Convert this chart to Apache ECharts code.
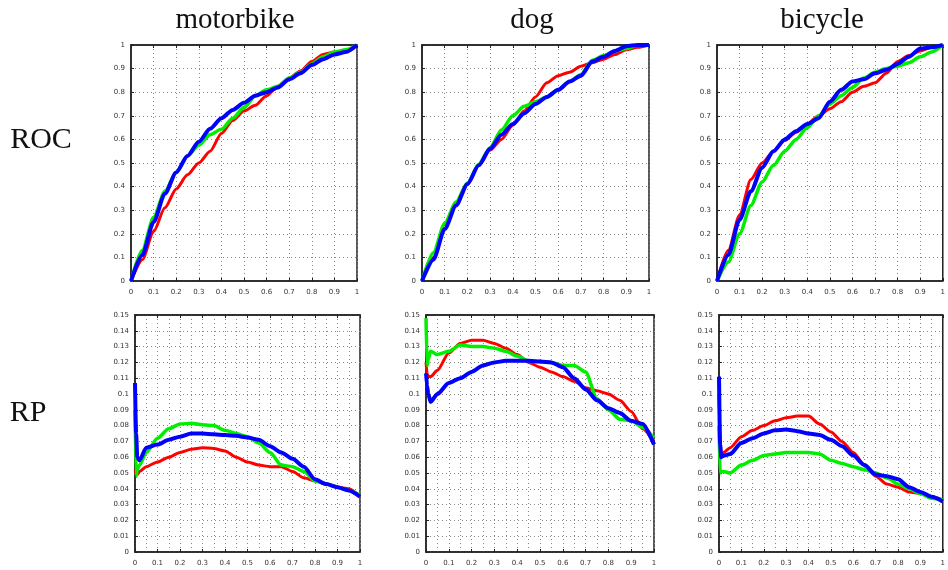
<!DOCTYPE html>
<html>
<head>
<meta charset="utf-8">
<script src="https://cdn.jsdelivr.net/npm/echarts@6/dist/echarts.min.js"></script>
<style>
html,body{margin:0;padding:0;background:#fff;}
#main{width:948px;height:570px;}
</style>
</head>
<body>
<div id="main"></div>
<script>
// 类别
var classNames=['motorbike','dog','bicycle'];
var rowNames=['ROC','RP'];
var methodColors=['#ff0000','#00ee00','#0000ff'];
var methodWidths=[3,3.5,4];

// ROC 横轴
var rocX=[0,0.05,0.1,0.15,0.2,0.25,0.3,0.35,0.4,0.45,0.5,0.55,0.6,0.65,0.7,0.75,0.8,0.85,0.9,0.95,1];
// motorbike ROC
var motoRocRed=[0,0.09,0.21,0.31,0.39,0.45,0.50,0.55,0.625,0.68,0.72,0.745,0.785,0.825,0.86,0.89,0.93,0.96,0.97,0.975,1];
var motoRocGreen=[0,0.13,0.27,0.38,0.46,0.53,0.575,0.62,0.643,0.69,0.735,0.785,0.81,0.825,0.86,0.885,0.92,0.95,0.97,0.98,1];
var motoRocBlue=[0,0.11,0.25,0.37,0.46,0.53,0.59,0.645,0.69,0.725,0.755,0.785,0.80,0.82,0.855,0.88,0.915,0.94,0.96,0.97,1];
// dog ROC
var dogRocRed=[0,0.10,0.24,0.33,0.41,0.49,0.555,0.60,0.66,0.72,0.78,0.84,0.87,0.885,0.91,0.925,0.94,0.96,0.98,0.99,1];
var dogRocGreen=[0,0.12,0.245,0.335,0.415,0.495,0.565,0.64,0.70,0.74,0.76,0.78,0.81,0.845,0.875,0.935,0.955,0.975,0.985,1,1];
var dogRocBlue=[0,0.09,0.22,0.32,0.41,0.49,0.56,0.62,0.665,0.71,0.75,0.78,0.81,0.845,0.87,0.93,0.95,0.975,0.995,1,1];
// bicycle ROC
var bikeRocRed=[0,0.13,0.28,0.43,0.50,0.55,0.595,0.63,0.665,0.70,0.73,0.76,0.80,0.825,0.84,0.88,0.93,0.955,0.975,0.99,1];
var bikeRocGreen=[0,0.08,0.20,0.32,0.42,0.49,0.55,0.60,0.65,0.70,0.75,0.785,0.82,0.86,0.885,0.90,0.91,0.925,0.95,0.97,1];
var bikeRocBlue=[0,0.11,0.26,0.38,0.48,0.55,0.60,0.635,0.665,0.69,0.76,0.81,0.845,0.855,0.88,0.895,0.92,0.95,0.985,0.99,1];

// RP 横轴
var rpX=[0,0.005,0.01,0.02,0.05,0.1,0.15,0.2,0.25,0.3,0.35,0.4,0.45,0.5,0.55,0.6,0.65,0.7,0.75,0.8,0.85,0.9,0.95,1];
// motorbike RP
var motoRpRed=[0.052,0.05,0.049,0.051,0.054,0.057,0.060,0.063,0.065,0.066,0.0655,0.064,0.060,0.057,0.055,0.054,0.054,0.051,0.047,0.045,0.043,0.041,0.040,0.035];
var motoRpGreen=[0.09,0.048,0.052,0.055,0.063,0.072,0.078,0.081,0.0815,0.0805,0.080,0.077,0.075,0.073,0.069,0.063,0.055,0.054,0.051,0.045,0.043,0.041,0.039,0.036];
var motoRpBlue=[0.107,0.075,0.060,0.058,0.066,0.068,0.071,0.073,0.075,0.075,0.0745,0.074,0.0735,0.0725,0.071,0.067,0.063,0.059,0.054,0.046,0.043,0.041,0.039,0.035];
// dog RP
var dogRpRed=[0.12,0.113,0.111,0.111,0.115,0.126,0.132,0.134,0.134,0.132,0.129,0.125,0.120,0.117,0.114,0.111,0.108,0.104,0.102,0.100,0.096,0.089,0.078,0.069];
var dogRpGreen=[0.148,0.118,0.122,0.127,0.125,0.127,0.131,0.130,0.130,0.129,0.127,0.124,0.121,0.1205,0.120,0.118,0.118,0.114,0.097,0.090,0.084,0.083,0.079,0.072];
var dogRpBlue=[0.113,0.105,0.100,0.095,0.100,0.107,0.110,0.114,0.118,0.120,0.121,0.121,0.121,0.1205,0.120,0.117,0.110,0.103,0.096,0.091,0.088,0.083,0.081,0.068];
// bicycle RP
var bikeRpRed=[0.10,0.07,0.062,0.063,0.066,0.073,0.077,0.080,0.083,0.085,0.086,0.086,0.081,0.076,0.070,0.063,0.055,0.048,0.043,0.041,0.038,0.037,0.035,0.033];
var bikeRpGreen=[0.08,0.05,0.051,0.051,0.050,0.055,0.058,0.061,0.062,0.063,0.063,0.063,0.062,0.058,0.056,0.054,0.052,0.050,0.047,0.043,0.040,0.037,0.034,0.033];
var bikeRpBlue=[0.111,0.068,0.060,0.061,0.062,0.069,0.072,0.075,0.077,0.0775,0.0765,0.075,0.074,0.071,0.067,0.061,0.055,0.049,0.048,0.046,0.041,0.038,0.035,0.032];

var rocData=[[motoRocRed,motoRocGreen,motoRocBlue],[dogRocRed,dogRocGreen,dogRocBlue],[bikeRocRed,bikeRocGreen,bikeRocBlue]];
var rpData=[[motoRpRed,motoRpGreen,motoRpBlue],[dogRpRed,dogRpGreen,dogRpBlue],[bikeRpRed,bikeRpGreen,bikeRpBlue]];

var myChart=echarts.init(document.getElementById('main'),null,{renderer:'canvas'});

// 网格位置
var grids=[
	{left:131,top:45,width:226,height:236},
	{left:422,top:45,width:227,height:236},
	{left:717,top:45,width:226,height:236},
	{left:135,top:315,width:225,height:237},
	{left:426,top:315,width:228,height:237},
	{left:719,top:315,width:227,height:237}
];
var labelFont={fontFamily:'DejaVu Sans',fontSize:7,color:'#333'};
var dotLine={show:true,lineStyle:{color:'#888',type:[1,3],width:1}};

var gridArr=[],xAxisArr=[],yAxisArr=[],seriesArr=[];
for(var g=0;g<6;g++){
	var isRoc=g<3;
	gridArr.push({left:grids[g].left,top:grids[g].top,width:grids[g].width,height:grids[g].height,
		show:true,borderColor:'#222',borderWidth:1.5,backgroundColor:'#fff'});
	// 底部横轴
	xAxisArr.push({
		type:'value',gridIndex:g,min:0,max:1,interval:0.1,position:'bottom',
		axisLine:{lineStyle:{color:'#222',width:1.5}},
		axisTick:{inside:true,length:3,lineStyle:{color:'#222'}},
		axisLabel:Object.assign({margin:8},labelFont),
		splitLine:dotLine,
		minorTick:{show:false,splitNumber:2},
		minorSplitLine:{show:!isRoc,lineStyle:{color:'#888',type:[1,3],width:1}}
	});
	// 顶部刻度
	xAxisArr.push({
		type:'value',gridIndex:g,min:0,max:1,interval:0.1,position:'top',
		axisLine:{lineStyle:{color:'#222',width:1.5}},
		axisTick:{inside:true,length:3,lineStyle:{color:'#222'}},
		axisLabel:{show:false},splitLine:{show:false}
	});
	yAxisArr.push({
		type:'value',gridIndex:g,min:0,max:isRoc?1:0.15,interval:isRoc?0.1:0.01,
		axisLine:{lineStyle:{color:'#222',width:1.5}},
		axisTick:{inside:true,length:3,lineStyle:{color:'#222'}},
		axisLabel:Object.assign({margin:6},labelFont),
		splitLine:dotLine
	});
	var xs=isRoc?rocX:rpX;
	var ys=isRoc?rocData[g]:rpData[g-3];
	for(var m=0;m<3;m++){
		var pts=[];
		for(var i=0;i<xs.length;i++){
			pts.push([xs[i],ys[m][i]]);
		}
		seriesArr.push({
			type:'line',xAxisIndex:g*2,yAxisIndex:g,data:pts,
			showSymbol:false,smooth:0.25,smoothMonotone:'x',animation:false,
			lineStyle:{color:methodColors[m],width:methodWidths[m]},
			itemStyle:{color:methodColors[m]}
		});
	}
}

// 标题文字
var serif='"Liberation Serif", "DejaVu Serif", serif';
var titleX=[235,532,822];
var graphicArr=[];
for(var k=0;k<3;k++){
	graphicArr.push({type:'text',x:titleX[k],y:20,style:{text:classNames[k],font:'29px '+serif,fill:'#111',align:'center',verticalAlign:'middle'}});
}
graphicArr.push({type:'text',x:41,y:140,style:{text:rowNames[0],font:'30px '+serif,fill:'#111',align:'center',verticalAlign:'middle'}});
graphicArr.push({type:'text',x:28,y:413,style:{text:rowNames[1],font:'30px '+serif,fill:'#111',align:'center',verticalAlign:'middle'}});

var option={
	backgroundColor:'#fff',
	animation:false,
	grid:gridArr,
	xAxis:xAxisArr,
	yAxis:yAxisArr,
	graphic:graphicArr,
	series:seriesArr
};
myChart.setOption(option);
</script>
</body>
</html>
